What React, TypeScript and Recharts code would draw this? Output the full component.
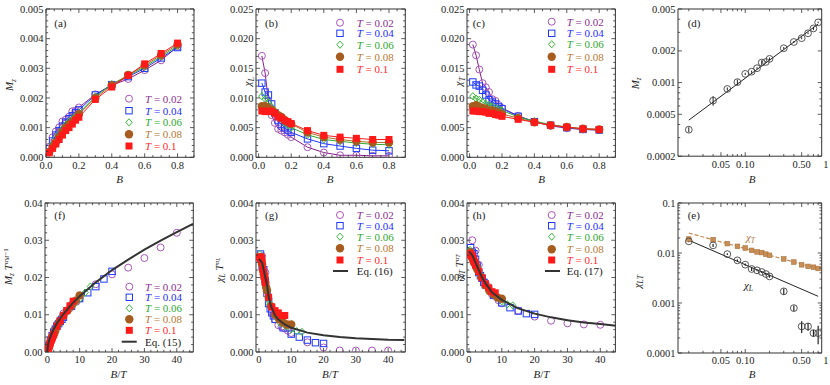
import React from 'react';
import { ScatterChart, Scatter, XAxis, YAxis, ReferenceArea, ErrorBar } from 'recharts';

// ---------- data ----------
const B = [0.02, 0.04, 0.06, 0.08, 0.1, 0.12, 0.14, 0.16, 0.18, 0.2, 0.3, 0.4, 0.5, 0.6, 0.7, 0.8];
const BT_T002 = [1, 2, 3, 4, 5, 6, 7, 8, 9, 10, 15, 20, 25, 30, 35, 40];
const BT_T004 = [0.5, 1, 1.5, 2, 2.5, 3, 3.5, 4, 4.5, 5, 7.5, 10, 12.5, 15, 17.5, 20];
const BT_T006 = [0.33, 0.67, 1, 1.33, 1.67, 2, 2.33, 2.67, 3, 3.33, 5, 6.67, 8.33, 10, 11.67, 13.33];
const BT_T008 = [0.25, 0.5, 0.75, 1, 1.25, 1.5, 1.75, 2, 2.25, 2.5, 3.75, 5, 6.25, 7.5, 8.75, 10];
const BT_T010 = [0.2, 0.4, 0.6, 0.8, 1, 1.2, 1.4, 1.6, 1.8, 2, 3, 4, 5, 6, 7, 8];

// (a) M_z vs B
const MZ_T002 = [0.000357, 0.000674, 0.00087, 0.00101, 0.00121, 0.00127, 0.00137, 0.00155, 0.00157, 0.00168, 0.00212, 0.00243, 0.00264, 0.00294, 0.00327, 0.00373];
const MZ_T004 = [0.0003, 0.00055, 0.00075, 0.0009, 0.00105, 0.00118, 0.0013, 0.0014, 0.0015, 0.0016, 0.0021, 0.00245, 0.00272, 0.003, 0.00335, 0.0037];
const MZ_T006 = [0.00022, 0.00045, 0.00065, 0.0008, 0.00095, 0.0011, 0.0012, 0.0013, 0.0014, 0.0015, 0.00205, 0.00247, 0.00275, 0.00305, 0.0034, 0.00375];
const MZ_T008 = [0.00018, 0.00035, 0.0005, 0.00068, 0.00085, 0.001, 0.0011, 0.0012, 0.0013, 0.00145, 0.002, 0.00243, 0.00278, 0.0031, 0.00345, 0.0038];
const MZ_T010 = [0.00015, 0.0003, 0.00045, 0.0006, 0.00075, 0.0009, 0.001, 0.00112, 0.00125, 0.00135, 0.00195, 0.00237, 0.00276, 0.00315, 0.0035, 0.00385];

// (f) scaled M_z vs B/T
const MZS_T002 = [0.00306, 0.00578, 0.00746, 0.00867, 0.01038, 0.0109, 0.01175, 0.0133, 0.01347, 0.01441, 0.01819, 0.02085, 0.02265, 0.02523, 0.02806, 0.032];
const MZS_T004 = [0.00176, 0.00322, 0.00439, 0.00527, 0.00614, 0.0069, 0.0076, 0.00819, 0.00878, 0.00936, 0.01229, 0.01433, 0.01591, 0.01755, 0.0196, 0.02165];
const MZS_T006 = [0.00103, 0.00211, 0.00305, 0.00375, 0.00446, 0.00516, 0.00563, 0.0061, 0.00657, 0.00704, 0.00961, 0.01158, 0.0129, 0.0143, 0.01595, 0.01759];
const MZS_T008 = [0.00072, 0.0014, 0.002, 0.00272, 0.0034, 0.004, 0.0044, 0.0048, 0.0052, 0.0058, 0.008, 0.00972, 0.01112, 0.0124, 0.0138, 0.0152];
const MZS_T010 = [0.00053, 0.00106, 0.00159, 0.00212, 0.00266, 0.00319, 0.00354, 0.00396, 0.00443, 0.00478, 0.0069, 0.00839, 0.00977, 0.01115, 0.01239, 0.01363];
const EQ15_X = [0, 0.25, 0.5, 1, 2, 3, 4, 5, 7.5, 10, 15, 20, 25, 30, 35, 40, 45];
const EQ15_Y = [0, 0.002, 0.0029, 0.0042, 0.0062, 0.0077, 0.009, 0.0102, 0.0128, 0.015, 0.0187, 0.022, 0.0248, 0.0275, 0.0299, 0.0322, 0.0344];

// (b) chi_L vs B
const CHIL_T002 = [0.0171, 0.0142, 0.0095, 0.0071, 0.0058, 0.0048, 0.0045, 0.0042, 0.0038, 0.0034, 0.0017, 0.0008, 0.00034, 0.00034, 0.00025, 0.00025];
const CHIL_T004 = [0.0125, 0.011, 0.0105, 0.009, 0.0075, 0.0062, 0.0055, 0.005, 0.0046, 0.0042, 0.0031, 0.0023, 0.0019, 0.0015, 0.0012, 0.0011];
const CHIL_T006 = [0.0103, 0.0098, 0.0093, 0.0085, 0.0078, 0.007, 0.0064, 0.0058, 0.0054, 0.005, 0.0038, 0.003, 0.0027, 0.0024, 0.0022, 0.0021];
const CHIL_T008 = [0.0086, 0.0086, 0.0083, 0.008, 0.0075, 0.0071, 0.0068, 0.0063, 0.0059, 0.0056, 0.0042, 0.0034, 0.003, 0.0027, 0.0025, 0.0025];
const CHIL_T010 = [0.0078, 0.0077, 0.0078, 0.0077, 0.0074, 0.0068, 0.0066, 0.0062, 0.006, 0.0057, 0.0045, 0.0037, 0.0034, 0.0032, 0.003, 0.003];

// (g) scaled chi_L vs B/T
const CHILS_T002 = [0.00257, 0.00213, 0.00143, 0.00107, 0.00087, 0.00072, 0.00068, 0.00063, 0.00057, 0.00051, 0.00026, 0.00012, 0.00004, 0.00004, 0.00004, 0.00004];
const CHILS_T004 = [0.00263, 0.00231, 0.00221, 0.00189, 0.00158, 0.0013, 0.00116, 0.00105, 0.00097, 0.00088, 0.00065, 0.00048, 0.0004, 0.00032, 0.00025, 0.00023];
const CHILS_T006 = [0.00263, 0.0025, 0.00237, 0.00217, 0.00199, 0.00179, 0.00163, 0.00148, 0.00138, 0.00128, 0.00097, 0.00077, 0.00069, 0.00061, 0.00056, 0.00054];
const CHILS_T008 = [0.00253, 0.00253, 0.00244, 0.00235, 0.0022, 0.00209, 0.002, 0.00185, 0.00173, 0.00165, 0.00123, 0.001, 0.00088, 0.00079, 0.00074, 0.00074];
const CHILS_T010 = [0.00255, 0.00252, 0.00255, 0.00252, 0.00242, 0.00222, 0.00216, 0.00203, 0.00196, 0.00186, 0.00147, 0.00121, 0.00111, 0.00105, 0.00098, 0.00098];
const EQ16_X = [0, 0.5, 1, 1.5, 2, 2.5, 3, 3.5, 4, 5, 6, 8, 10, 15, 20, 25, 30, 35, 40, 45];
const EQ16_Y = [0.0025, 0.00245, 0.0024, 0.0022, 0.002, 0.0018, 0.0015, 0.0013, 0.00118, 0.00098, 0.00087, 0.00074, 0.00065, 0.00052, 0.00045, 0.0004, 0.00037, 0.00035, 0.00033, 0.00032];

// (c) chi_T vs B
const CHIT_T002 = [0.019, 0.0172, 0.0148, 0.0125, 0.0118, 0.011, 0.0098, 0.0095, 0.0088, 0.0083, 0.007, 0.006, 0.0053, 0.0049, 0.0047, 0.0046];
const CHIT_T004 = [0.0127, 0.0122, 0.012, 0.0113, 0.0105, 0.0097, 0.0093, 0.009, 0.0085, 0.0082, 0.0069, 0.006, 0.0054, 0.005, 0.0047, 0.0046];
const CHIT_T006 = [0.0103, 0.0099, 0.0097, 0.0093, 0.009, 0.0088, 0.0086, 0.0083, 0.0081, 0.0079, 0.0068, 0.0061, 0.0055, 0.0051, 0.0048, 0.0047];
const CHIT_T008 = [0.0086, 0.0088, 0.0085, 0.0083, 0.0082, 0.0079, 0.0079, 0.0077, 0.0075, 0.0073, 0.0066, 0.0059, 0.0054, 0.0051, 0.0048, 0.0047];
const CHIT_T010 = [0.0078, 0.0078, 0.0077, 0.0077, 0.0076, 0.0074, 0.0074, 0.0072, 0.0071, 0.0069, 0.0064, 0.0059, 0.0054, 0.0051, 0.0048, 0.0047];

// (h) scaled chi_T vs B/T
const CHITS_T002 = [0.003, 0.00272, 0.00234, 0.00198, 0.00186, 0.00174, 0.00155, 0.0015, 0.00139, 0.00131, 0.00111, 0.00095, 0.00084, 0.00077, 0.00074, 0.00073];
const CHITS_T004 = [0.0028, 0.00268, 0.00264, 0.00249, 0.00231, 0.00213, 0.00205, 0.00198, 0.00187, 0.0018, 0.00152, 0.00132, 0.00119, 0.0011, 0.00103, 0.00101];
const CHITS_T006 = [0.00274, 0.00263, 0.00258, 0.00247, 0.00239, 0.00234, 0.00229, 0.00221, 0.00215, 0.0021, 0.00181, 0.00162, 0.00146, 0.00136, 0.00128, 0.00125];
const CHITS_T008 = [0.00261, 0.00268, 0.00258, 0.00252, 0.00249, 0.0024, 0.0024, 0.00234, 0.00228, 0.00222, 0.00201, 0.00179, 0.00164, 0.00155, 0.00146, 0.00143];
const CHITS_T010 = [0.00264, 0.00264, 0.0026, 0.0026, 0.00257, 0.0025, 0.0025, 0.00243, 0.0024, 0.00233, 0.00216, 0.00199, 0.00183, 0.00172, 0.00162, 0.00159];
const EQ17_X = [0, 1, 2, 3, 4, 5, 7, 10, 15, 20, 25, 30, 35, 40, 45];
const EQ17_Y = [0.0027, 0.0026, 0.0024, 0.0022, 0.002, 0.00185, 0.0016, 0.0014, 0.00117, 0.00103, 0.00093, 0.00085, 0.00079, 0.00075, 0.0007];

// (d) log-log M_z (T = 0.02)
const D_ERR = [0.00002, 0.00007, 0.00003, 0.00006, 0.00003, 0.00003, 0.00003, 0.00008, 0.00003, 0.00005, 0.00006, 0.00005, 0.00006, 0.00006, 0.00012, 0.00006];
const D_FIT_B = [0.02, 0.8];
const D_FIT_M = [0.00044, 0.0036];

// (e) log-log chi_L, chi_T (T = 0.02)
const E_CHIL = [0.0171, 0.0142, 0.0095, 0.00713, 0.00585, 0.00479, 0.0045, 0.00417, 0.0038, 0.0034, 0.00171, 0.00079, 0.00034, 0.00034, 0.00025, 0.00025];
const E_CHIL_ERR = [0.0006, 0.001, 0.0004, 0.0003, 0.0003, 0.0004, 0.0002, 0.0002, 0.0002, 0.0002, 0.00025, 0.0001, 0.00009, 0.00006, 0.00004, 0.0001];
const E_CHIT = [0.019, 0.0185, 0.0154, 0.0136, 0.0126, 0.0113, 0.0105, 0.0102, 0.0095, 0.009, 0.0076, 0.0066, 0.0058, 0.0054, 0.0052, 0.0049];
const E_FIT_B = [0.02, 0.8];
const E_FIT_L = [0.018, 0.00136];
const E_FIT_T = [0.0251, 0.00486];

const T_LABELS = ['0.02', '0.04', '0.06', '0.08', '0.1'];

// ---------- styles ----------
const SERIES = [
  { color: '#a656b6', text: '#8e2c92', line: '#8b1f8b', shape: 'circleOpen' },
  { color: '#2038ff', text: '#1f2cff', line: '#2038ff', shape: 'squareOpen' },
  { color: '#3cb83c', text: '#2ea82e', line: '#2ea82e', shape: 'diamondOpen' },
  { color: '#a65c1e', text: '#b8782f', line: '#b06a25', shape: 'circleFill' },
  { color: '#ff1a1a', text: '#ff2a2a', line: '#ff1a1a', shape: 'squareFill' },
];
const SERIF = '"Liberation Serif", "DejaVu Serif", serif';

function Marker({ kind, cx, cy, color }: any) {
  if (cx == null || cy == null) return <g />;
  switch (kind) {
    case 'circleOpen':
      return <circle cx={cx} cy={cy} r={3.5} fill="none" stroke={color} strokeWidth={1} />;
    case 'squareOpen':
      return <rect x={cx - 3.2} y={cy - 3.2} width={6.4} height={6.4} fill="none" stroke={color} strokeWidth={1} />;
    case 'diamondOpen':
      return <polygon points={`${cx},${cy - 3.6} ${cx + 3.2},${cy} ${cx},${cy + 3.6} ${cx - 3.2},${cy}`} fill="none" stroke={color} strokeWidth={1} />;
    case 'circleFill':
      return <circle cx={cx} cy={cy} r={4.2} fill={color} />;
    case 'squareFill':
      return <rect x={cx - 3.5} y={cy - 3.5} width={7} height={7} fill={color} />;
    case 'circleGray':
      return <circle cx={cx} cy={cy} r={3.4} fill="none" stroke="#444" strokeWidth={0.9} />;
    case 'squareTan':
      return <rect x={cx - 2.3} y={cy - 2.3} width={4.6} height={4.6} fill="#c98e55" stroke="#a8713c" strokeWidth={0.6} />;
    default:
      return <g />;
  }
}

const pts = (xs: number[], ys: number[], errs?: number[]) =>
  xs.map((x, i) => ({ x, y: ys[i], e: errs ? errs[i] : 0 }));

// ---------- ticks ----------
type Major = [number, string][];
const linMinor = (a: number, b: number, step: number) => {
  const out: number[] = [];
  const n = Math.round((b - a) / step);
  for (let i = 0; i <= n; i++) out.push(+(a + i * step).toPrecision(10));
  return out;
};
const logMinor = (lo: number, hi: number) => {
  const out: number[] = [];
  for (let e = lo; e <= hi; e++) for (let k = 1; k <= 9; k++) out.push(+(k * Math.pow(10, e)).toPrecision(10));
  return out;
};

const findLabel = (major: Major, v: number) =>
  major.find((m) => Math.abs(m[0] - v) <= 1e-7 * Math.abs(m[0]) + 1e-15);

function Panel({ rect, xd, yd, xs = 'linear', ys = 'linear', xMajor, xMinor, yMajor, yMinor, children }: any) {
  const [PL, PT, PW, PH] = rect;
  const plot = { l: 50, t: 5, r: 50 + PW, b: 5 + PH };
  const inDom = (v: number, d: number[]) => v >= d[0] - 1e-12 && v <= d[1] + 1e-9;
  const xTicks = Array.from(new Set([...xMajor.map((m: any) => m[0]), ...xMinor])).filter((v: number) => (xs === 'log' ? v > 0 : true));
  const yTicks = Array.from(new Set([...yMajor.map((m: any) => m[0]), ...yMinor.filter((v: number) => inDom(v, yd))]));
  const xTick = (p: any) => {
    const v = p.payload.value;
    const x = p.x;
    const lab = findLabel(xMajor, v);
    const inside = inDom(v, xd);
    const len = lab ? 4 : 2.2;
    return (
      <g>
        {inside && <line x1={x} x2={x} y1={plot.b} y2={plot.b - len} stroke="#333" strokeWidth={0.8} />}
        {inside && <line x1={x} x2={x} y1={plot.t} y2={plot.t + len} stroke="#333" strokeWidth={0.8} />}
        {lab && (
          <text x={x} y={plot.b + 11.5} textAnchor="middle" fontSize={10.5} fontFamily={SERIF} fill="#222">
            {lab[1]}
          </text>
        )}
      </g>
    );
  };
  const yTick = (p: any) => {
    const v = p.payload.value;
    const y = p.y;
    const lab = findLabel(yMajor, v);
    const len = lab ? 4 : 2.2;
    return (
      <g>
        <line x1={plot.l} x2={plot.l + len} y1={y} y2={y} stroke="#333" strokeWidth={0.8} />
        <line x1={plot.r} x2={plot.r - len} y1={y} y2={y} stroke="#333" strokeWidth={0.8} />
        {lab && (
          <text x={plot.l - 2.5} y={y + 3.6} textAnchor="end" fontSize={10.5} fontFamily={SERIF} fill="#222">
            {lab[1]}
          </text>
        )}
      </g>
    );
  };
  return (
    <div style={{ position: 'absolute', left: PL - 50, top: PT - 5 }}>
      <ScatterChart width={PW + 62} height={PH + 40} margin={{ top: 5, right: 12, bottom: 0, left: 0 }}>
        <XAxis
          type="number"
          dataKey="x"
          scale={xs}
          domain={xd}
          allowDataOverflow
          ticks={xTicks}
          interval={0}
          tick={xTick}
          tickLine={false}
          axisLine={false}
          height={35}
        />
        <YAxis
          type="number"
          dataKey="y"
          scale={ys}
          domain={yd}
          allowDataOverflow
          ticks={yTicks}
          interval={0}
          tick={yTick}
          tickLine={false}
          axisLine={false}
          width={50}
        />
        <ReferenceArea x1={xd[0]} x2={xd[1]} y1={yd[0]} y2={yd[1]} fill="none" fillOpacity={0} stroke="#333" strokeWidth={1} ifOverflow="visible" />
        {children}
      </ScatterChart>
    </div>
  );
}

const seriesScatter = (xsArr: number[][], ysArr: number[][], withLine: boolean) =>
  SERIES.map((s, i) => (
    <Scatter
      key={i}
      data={pts(xsArr[i], ysArr[i])}
      isAnimationActive={false}
      line={withLine ? { stroke: s.line, strokeWidth: 1 } : false}
      shape={(p: any) => <Marker kind={s.shape} cx={p.cx} cy={p.cy} color={s.color} />}
    />
  ));

const curve = (xs: number[], ys: number[], stroke: string, width: number, dash?: string) => (
  <Scatter
    data={pts(xs, ys)}
    isAnimationActive={false}
    line={{ stroke, strokeWidth: width, strokeDasharray: dash }}
    shape={() => <g />}
  />
);

// axis tick labels
const X_B: Major = [[0, '0.0'], [0.2, '0.2'], [0.4, '0.4'], [0.6, '0.6'], [0.8, '0.8']];
const X_BT: Major = [[0, '0'], [10, '10'], [20, '20'], [30, '30'], [40, '40']];
const X_LOG: Major = [[0.05, '0.05'], [0.1, '0.10'], [0.5, '0.50'], [1, '1']];
const Y_A: Major = [[0, '0.000'], [0.001, '0.001'], [0.002, '0.002'], [0.003, '0.003'], [0.004, '0.004'], [0.005, '0.005']];
const Y_BC: Major = [[0, '0.000'], [0.005, '0.005'], [0.01, '0.010'], [0.015, '0.015'], [0.02, '0.020'], [0.025, '0.025']];
const Y_D: Major = [[0.0002, '0.0002'], [0.0005, '0.0005'], [0.001, '0.001'], [0.002, '0.002'], [0.005, '0.005']];
const Y_E: Major = [[0.0001, '0.0001'], [0.001, '0.001'], [0.01, '0.01'], [0.1, '0.1']];
const Y_F: Major = [[0, '0.00'], [0.01, '0.01'], [0.02, '0.02'], [0.03, '0.03'], [0.04, '0.04']];
const Y_GH: Major = [[0, '0.000'], [0.001, '0.001'], [0.002, '0.002'], [0.003, '0.003'], [0.004, '0.004']];

const LOG_X_DOM = [0.0147, 0.885];

// ---------- overlay text ----------
const txt = { fontFamily: SERIF, fill: '#222' } as any;

function Legend({ mx, tx, ys, eq }: any) {
  return (
    <g>
      {SERIES.map((s, i) => (
        <g key={i}>
          <Marker kind={s.shape} cx={mx} cy={ys[i]} color={s.color} />
          <text x={tx} y={ys[i] + 3.8} fontSize={11} fontFamily={SERIF} fill={s.text}>
            <tspan fontStyle="italic">T</tspan>
            <tspan> = {T_LABELS[i]}</tspan>
          </text>
        </g>
      ))}
      {eq && (
        <g>
          <line x1={eq.x1} x2={eq.x2} y1={eq.y} y2={eq.y} stroke="#333" strokeWidth={2} />
          <text x={tx} y={eq.y + 3.8} fontSize={11} {...txt}>
            {eq.label}
          </text>
        </g>
      )}
    </g>
  );
}

function YTitle({ x, y, children }: any) {
  return (
    <text x={x} y={y} transform={`rotate(-90 ${x} ${y})`} textAnchor="middle" fontSize={11} {...txt}>
      {children}
    </text>
  );
}

function XTitle({ x, y, children }: any) {
  return (
    <text x={x} y={y} textAnchor="middle" fontSize={11} {...txt}>
      {children}
    </text>
  );
}

const sub = (s: string, extra: any = {}) => (
  <tspan fontSize={7.5} dy={2.5} fontStyle="italic" {...extra}>
    {s}
  </tspan>
);

export default function App() {
  return (
    <div style={{ position: 'absolute', left: 0, top: 0, width: 830, height: 385, background: '#fff', overflow: 'hidden' }}>
      {/* (a) */}
      <Panel rect={[45.5, 9, 148, 148.3]} xd={[0, 0.9]} yd={[0, 0.005]} xMajor={X_B} xMinor={linMinor(0, 0.9, 0.05)} yMajor={Y_A} yMinor={linMinor(0, 0.005, 0.0002)}>
        {seriesScatter([B, B, B, B, B], [MZ_T002, MZ_T004, MZ_T006, MZ_T008, MZ_T010], true)}
      </Panel>
      {/* (b) */}
      <Panel rect={[255.7, 9, 149.3, 148.3]} xd={[-0.016, 0.9]} yd={[0, 0.025]} xMajor={X_B} xMinor={linMinor(0, 0.9, 0.05)} yMajor={Y_BC} yMinor={linMinor(0, 0.025, 0.001)}>
        {seriesScatter([B, B, B, B, B], [CHIL_T002, CHIL_T004, CHIL_T006, CHIL_T008, CHIL_T010], true)}
      </Panel>
      {/* (c) */}
      <Panel rect={[467.3, 9, 148.4, 148.3]} xd={[-0.016, 0.9]} yd={[0, 0.025]} xMajor={X_B} xMinor={linMinor(0, 0.9, 0.05)} yMajor={Y_BC} yMinor={linMinor(0, 0.025, 0.001)}>
        {seriesScatter([B, B, B, B, B], [CHIT_T002, CHIT_T004, CHIT_T006, CHIT_T008, CHIT_T010], true)}
      </Panel>
      {/* (d) */}
      <Panel rect={[678.3, 8.5, 143.7, 147.2]} xd={LOG_X_DOM} yd={[0.0002, 0.005]} xs="log" ys="log" xMajor={X_LOG} xMinor={logMinor(-2, -1)} yMajor={Y_D} yMinor={logMinor(-4, -3)}>
        {curve(D_FIT_B, D_FIT_M, '#222', 1)}
        <Scatter data={pts(B, MZ_T002, D_ERR)} isAnimationActive={false} shape={(p: any) => <Marker kind="circleGray" cx={p.cx} cy={p.cy} />}>
          <ErrorBar dataKey="e" direction="y" width={0} stroke="#222" strokeWidth={1} />
        </Scatter>
      </Panel>
      {/* (f) */}
      <Panel rect={[45, 203, 148.3, 149]} xd={[-0.7, 45.1]} yd={[0, 0.04]} xMajor={X_BT} xMinor={linMinor(0, 44, 2)} yMajor={Y_F} yMinor={linMinor(0, 0.04, 0.002)}>
        {seriesScatter([BT_T002, BT_T004, BT_T006, BT_T008, BT_T010], [MZS_T002, MZS_T004, MZS_T006, MZS_T008, MZS_T010], false)}
        {curve(EQ15_X, EQ15_Y, '#333', 2)}
      </Panel>
      {/* (g) */}
      <Panel rect={[255.7, 203, 149.3, 149]} xd={[-0.9, 45.3]} yd={[0, 0.004]} xMajor={X_BT} xMinor={linMinor(0, 44, 2)} yMajor={Y_GH} yMinor={linMinor(0, 0.004, 0.0002)}>
        {seriesScatter([BT_T002, BT_T004, BT_T006, BT_T008, BT_T010], [CHILS_T002, CHILS_T004, CHILS_T006, CHILS_T008, CHILS_T010], false)}
        {curve(EQ16_X, EQ16_Y, '#333', 2)}
      </Panel>
      {/* (h) */}
      <Panel rect={[467.3, 203, 148.4, 149]} xd={[-0.6, 44.6]} yd={[0, 0.004]} xMajor={X_BT} xMinor={linMinor(0, 44, 2)} yMajor={Y_GH} yMinor={linMinor(0, 0.004, 0.0002)}>
        {seriesScatter([BT_T002, BT_T004, BT_T006, BT_T008, BT_T010], [CHITS_T002, CHITS_T004, CHITS_T006, CHITS_T008, CHITS_T010], false)}
        {curve(EQ17_X, EQ17_Y, '#333', 2)}
      </Panel>
      {/* (e) */}
      <Panel rect={[678.3, 203.3, 143.7, 150]} xd={LOG_X_DOM} yd={[0.0001, 0.1]} xs="log" ys="log" xMajor={X_LOG} xMinor={logMinor(-2, -1)} yMajor={Y_E} yMinor={logMinor(-4, -2)}>
        {curve(E_FIT_B, E_FIT_T, '#c48a50', 1.2, '4 2')}
        {curve(E_FIT_B, E_FIT_L, '#222', 1)}
        <Scatter data={pts(B, E_CHIT)} isAnimationActive={false} shape={(p: any) => <Marker kind="squareTan" cx={p.cx} cy={p.cy} />} />
        <Scatter data={pts(B, E_CHIL, E_CHIL_ERR)} isAnimationActive={false} shape={(p: any) => <Marker kind="circleGray" cx={p.cx} cy={p.cy} />}>
          <ErrorBar dataKey="e" direction="y" width={0} stroke="#222" strokeWidth={1.2} />
        </Scatter>
      </Panel>

      <svg width={830} height={385} style={{ position: 'absolute', left: 0, top: 0, pointerEvents: 'none' }}>
        {/* panel letters */}
        <text x={54.3} y={26.5} fontSize={11} {...txt}>(a)</text>
        <text x={265} y={26.5} fontSize={11} {...txt}>(b)</text>
        <text x={472.7} y={26.5} fontSize={11} {...txt}>(c)</text>
        <text x={687.7} y={26.5} fontSize={11} {...txt}>(d)</text>
        <text x={54.3} y={219} fontSize={11} {...txt}>(f)</text>
        <text x={265} y={219} fontSize={11} {...txt}>(g)</text>
        <text x={472.7} y={219} fontSize={11} {...txt}>(h)</text>
        <text x={687.7} y={219} fontSize={11} {...txt}>(e)</text>

        {/* legends */}
        <Legend mx={129} tx={145} ys={[98.7, 110.7, 122.3, 134.3, 146]} />
        <Legend mx={340} tx={356.7} ys={[22.7, 33.3, 44.7, 56.7, 69.3]} />
        <Legend mx={551.7} tx={566.7} ys={[21.7, 33.3, 44.3, 56.7, 69.3]} />
        <Legend mx={129.3} tx={145} ys={[286.7, 297.3, 308.3, 319.3, 330.3]} eq={{ y: 341.7, x1: 121.7, x2: 136.7, label: 'Eq. (15)' }} />
        <Legend mx={340} tx={356.7} ys={[215, 225.7, 236.7, 248.3, 260]} eq={{ y: 271, x1: 333, x2: 348, label: 'Eq. (16)' }} />
        <Legend mx={551.7} tx={566.7} ys={[215, 225.7, 236.7, 249.3, 260]} eq={{ y: 271, x1: 545, x2: 560, label: 'Eq. (17)' }} />

        {/* (e) annotations */}
        <text x={746} y={240.5} fontSize={11} fontFamily={SERIF} fill="#b07a45" fontStyle="italic">
          χ<tspan fontSize={7.5} dy={2.5}>T</tspan>
        </text>
        <text x={744} y={288.5} fontSize={11} {...txt} fontStyle="italic">
          χ<tspan fontSize={7.5} dy={2.5}>L</tspan>
        </text>

        {/* x titles */}
        <XTitle x={119.5} y={183}><tspan fontStyle="italic">B</tspan></XTitle>
        <XTitle x={330} y={183}><tspan fontStyle="italic">B</tspan></XTitle>
        <XTitle x={541.5} y={183}><tspan fontStyle="italic">B</tspan></XTitle>
        <XTitle x={752} y={183}><tspan fontStyle="italic">B</tspan></XTitle>
        <XTitle x={118.5} y={378}><tspan fontStyle="italic">B</tspan>/<tspan fontStyle="italic">T</tspan></XTitle>
        <XTitle x={330} y={378}><tspan fontStyle="italic">B</tspan>/<tspan fontStyle="italic">T</tspan></XTitle>
        <XTitle x={541.5} y={378}><tspan fontStyle="italic">B</tspan>/<tspan fontStyle="italic">T</tspan></XTitle>
        <XTitle x={752} y={378}><tspan fontStyle="italic">B</tspan></XTitle>

        {/* y titles */}
        <YTitle x={13} y={85}><tspan fontStyle="italic">M</tspan>{sub('z')}</YTitle>
        <YTitle x={251.5} y={81.7}><tspan fontStyle="italic">χ</tspan>{sub('L')}</YTitle>
        <YTitle x={462.5} y={81.7}><tspan fontStyle="italic">χ</tspan>{sub('T')}</YTitle>
        <YTitle x={639} y={83.3}><tspan fontStyle="italic">M</tspan>{sub('z')}</YTitle>
        <YTitle x={12} y={266.7}>
          <tspan fontStyle="italic">M</tspan>
          {sub('z')}
          <tspan dy={-2.5} fontStyle="italic"> T</tspan>
          <tspan fontSize={7} dy={-4} fontStyle="italic">α</tspan>
          <tspan fontSize={5.5} dy={1.5} fontStyle="italic">M</tspan>
          <tspan fontSize={7} dy={-1.5}>−1</tspan>
        </YTitle>
        <YTitle x={222.5} y={270}>
          <tspan fontStyle="italic">χ</tspan>
          {sub('L')}
          <tspan dy={-2.5} fontStyle="italic"> T</tspan>
          <tspan fontSize={7} dy={-4} fontStyle="italic">α</tspan>
          <tspan fontSize={5.5} dy={1.5} fontStyle="italic">L</tspan>
        </YTitle>
        <YTitle x={463} y={266.7}>
          <tspan fontStyle="italic">χ</tspan>
          {sub('T')}
          <tspan dy={-2.5} fontStyle="italic"> T</tspan>
          <tspan fontSize={7} dy={-4} fontStyle="italic">α</tspan>
          <tspan fontSize={5.5} dy={1.5} fontStyle="italic">T</tspan>
        </YTitle>
        <YTitle x={641} y={281.7}><tspan fontStyle="italic">χ</tspan>{sub('LT')}</YTitle>
      </svg>
    </div>
  );
}
